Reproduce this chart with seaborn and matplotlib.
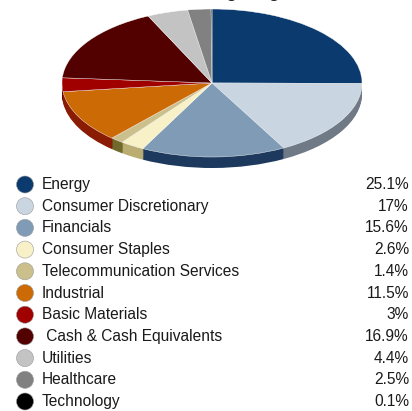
import matplotlib
matplotlib.use("agg")
import matplotlib.pyplot as plt
import numpy as np
import seaborn as sns

sectors = ["Energy", "Consumer Discretionary", "Financials", "Consumer Staples",
           "Telecommunication Services", "Industrial", "Basic Materials",
           " Cash & Cash Equivalents", "Utilities", "Healthcare", "Technology"]
weights = [25.1, 17, 15.6, 2.6, 1.4, 11.5, 3, 16.9, 4.4, 2.5, 0.1]
value_labels = ["25.1%", "17%", "15.6%", "2.6%", "1.4%", "11.5%", "3%",
                "16.9%", "4.4%", "2.5%", "0.1%"]
top_colors = ["#0b3a6e", "#c9d5e1", "#7f9bb6", "#f8f1c8", "#cbbf8c", "#cc6a06",
              "#a00000", "#520000", "#c3c3c3", "#818181", "#000000"]
side_colors = ["#052447", "#6f7a86", "#1d3a5e", "#b9ad72", "#6f6a2c", "#8a1c04",
               "#6a0000", "#3a0000", "#8a8a8a", "#555555", "#000000"]
title = "Sector Weightings"

sns.set_theme(style="white")
plt.rcParams["font.family"] = ["Liberation Sans", "DejaVu Sans"]

W, H = 412, 411
fig = plt.figure(figsize=(W / 100, H / 100), dpi=100)
fig.patch.set_facecolor("white")

# legend / table axes in pixel coordinates
lax = fig.add_axes([0, 0, 1, 1])
lax.set_xlim(0, W)
lax.set_ylim(H, 0)
lax.axis("off")

row_y = 184.5 + 21.7 * np.arange(len(sectors))
lax.scatter(np.full(len(sectors), 25), row_y, s=150, c=top_colors,
            edgecolors="#9a9a9a", linewidths=0.4, zorder=3)
for y, name, val in zip(row_y, sectors, value_labels):
    lax.text(42, y, name, va="center", ha="left", fontsize=11.2, color="#1a1a1a")
    lax.text(409, y, val, va="center", ha="right", fontsize=11.2, color="#1a1a1a")

# title sits mostly above the top edge, as in the source image
fig.text(210 / W, 1 + 3 / H, title, ha="center", va="baseline", fontsize=14,
         color="#222222")

# pie axes: ellipse with rx=150px, ry=74px, centre at (212, 83)
cx, cy, rx, ry = 212, 83, 150, 74
thick = 11 / ry
top_px = cy - ry
bot_px = 178
pax = fig.add_axes([(cx - rx) / W, 1 - bot_px / H, 2 * rx / W, (bot_px - top_px) / H])

n_layers = 12
for k in range(n_layers, 0, -1):
    off = -thick * k / n_layers
    pax.pie(weights, colors=side_colors, startangle=90, counterclock=False,
            center=(0, off), wedgeprops=dict(linewidth=0, edgecolor="none"))
pax.pie(weights, colors=top_colors, startangle=90, counterclock=False,
        center=(0, 0), wedgeprops=dict(linewidth=0.3, edgecolor=None))
pax.set_aspect("auto")
pax.set_xlim(-1, 1)
pax.set_ylim(1 - (bot_px - top_px) / ry, 1)
pax.axis("off")

fig.savefig("out.png", dpi=100, facecolor="white")
